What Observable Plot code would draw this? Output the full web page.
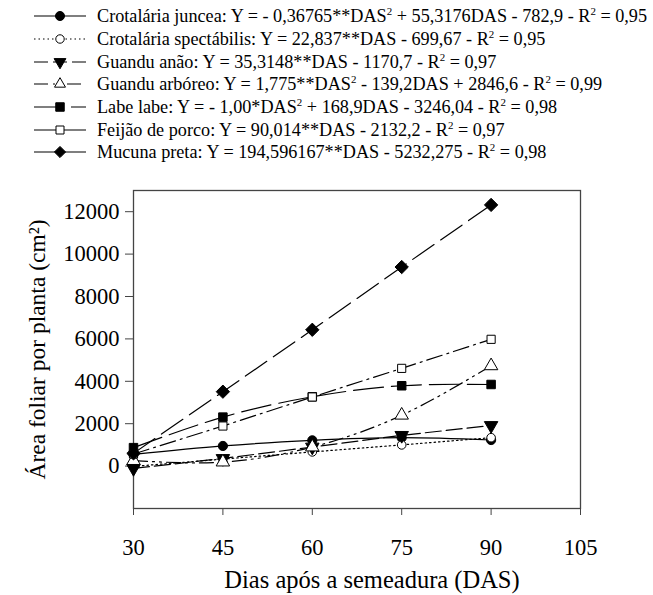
<!DOCTYPE html>
<html><head><meta charset="utf-8">
<script src="https://cdn.jsdelivr.net/npm/d3@7"></script>
<script src="https://cdn.jsdelivr.net/npm/@observablehq/plot@0.6"></script>
<style>
body{margin:0;background:#fff;font-family:"Liberation Serif","Times New Roman",Times,serif;}
#legend{height:164px;padding-top:5px;box-sizing:border-box;}
.row{display:flex;align-items:center;height:22.7px;}
.row svg{flex:none;display:block}
.row span{font-size:18.2px;color:#000;white-space:nowrap;margin-left:9px;line-height:1}
sup{font-size:0.6em;vertical-align:0.6em;line-height:0}
#chart svg{display:block}
</style></head><body>
<div id="legend"></div><div id="chart"></div>
<script>
const das = [30, 45, 60, 75, 90];
const xTicks = [30, 45, 60, 75, 90, 105];
const yTicks = [0, 2000, 4000, 6000, 8000, 10000, 12000];
const seriesNames = ["Crotalária juncea", "Crotalária spectábilis", "Guandu anão", "Guandu arbóreo", "Labe labe", "Feijão de porco", "Mucuna preta"];
const equations = [
  "Y = - 0,36765**DAS² + 55,3176DAS - 782,9 - R² = 0,95",
  "Y = 22,837**DAS - 699,67 - R² = 0,95",
  "Y = 35,3148**DAS - 1170,7 - R² = 0,97",
  "Y = 1,775**DAS² - 139,2DAS + 2846,6 - R² = 0,99",
  "Y = - 1,00*DAS² + 168,9DAS - 3246,04 - R² = 0,98",
  "Y = 90,014**DAS - 2132,2 - R² = 0,97",
  "Y = 194,596167**DAS - 5232,275 - R² = 0,98"
];
const juncea = [550, 950, 1215, 1340, 1230];
const spectabilis = [-15, 330, 670, 1000, 1340];
const anao = [-110, 360, 900, 1450, 1915];
const arboreo = [260, 190, 900, 2400, 4730];
const labe = [870, 2310, 3270, 3790, 3850];
const feijao = [570, 1890, 3260, 4610, 5980];
const mucuna = [600, 3510, 6430, 9390, 12320];
const seriesValues = [juncea, spectabilis, anao, arboreo, labe, feijao, mucuna];
const xLabel = "Dias após a semeadura (DAS)";
const yLabel = "Área foliar por planta (cm²)";

const FONT = "'Liberation Serif', 'Times New Roman', Times, serif";

const styles = [
  {dash: null, legendDash: null, curve: "natural", symbol: "circle", d3sym: d3.symbolCircle, size: 64, fill: "black", r: 4.6},
  {dash: "1.5,3", legendDash: "1.5,3", curve: "linear", symbol: "circle", d3sym: d3.symbolCircle, size: 56, fill: "white", r: 4.3},
  {dash: "16,5", legendDash: "14,5", curve: "linear", symbol: "triangle", d3sym: d3.symbolTriangle, size: 60, fill: "black", r: 5, rotate: 180},
  {dash: "14,5,2,5,2,5", legendDash: "14,5,2,5,2,5", curve: "natural", symbol: "triangle", d3sym: d3.symbolTriangle, size: 52, fill: "white", r: 5},
  {dash: "30,8", legendDash: "28,9", curve: "natural", symbol: "square", d3sym: d3.symbolSquare, size: 72, fill: "black", r: 4.8},
  {dash: "16,5,2,5", legendDash: null, curve: "linear", symbol: "square", d3sym: d3.symbolSquare, size: 64, fill: "white", r: 4.6},
  {dash: "26,8", legendDash: null, curve: "linear", symbol: "diamond2", d3sym: d3.symbolDiamond2, size: 80, fill: "black", r: 6}
];

// Legend
const legend = d3.select("#legend");
seriesNames.forEach((name, i) => {
  const st = styles[i];
  const row = legend.append("div").attr("class", "row");
  const svg = row.append("svg").attr("width", 88).attr("height", 20);
  svg.append("line").attr("x1", 34).attr("x2", 86).attr("y1", 10).attr("y2", 10)
    .attr("stroke", "black").attr("stroke-width", 1.2)
    .attr("stroke-dasharray", st.legendDash);
  svg.append("path").attr("d", d3.symbol(st.d3sym, st.size)())
    .attr("transform", `translate(60,10)${st.rotate ? " rotate(" + st.rotate + ")" : ""}`)
    .attr("fill", st.fill).attr("stroke", "black").attr("stroke-width", 1);
  const label = `${name}: ${equations[i]}`;
  const parts = label.split("²");
  row.append("span").html(parts.join("<sup>2</sup>"));
});

// Chart
const rows = [];
seriesNames.forEach((name, i) => das.forEach((d, j) => rows.push({series: name, das: d, value: seriesValues[i][j]})));

const marks = [];
seriesNames.forEach((name, i) => {
  const st = styles[i];
  const data = rows.filter(r => r.series === name);
  marks.push(Plot.line(data, {x: "das", y: "value", curve: st.curve, stroke: "black", strokeWidth: 1.2, strokeDasharray: st.dash}));
});
seriesNames.forEach((name, i) => {
  const st = styles[i];
  const data = rows.filter(r => r.series === name);
  marks.push(Plot.dot(data, {x: "das", y: "value", symbol: () => st.symbol, r: st.r, fill: st.fill, stroke: "black", strokeWidth: 1, rotate: st.rotate || 0}));
});

const chart = Plot.plot({
  width: 653,
  height: 431,
  marginTop: 26,
  marginBottom: 87,
  marginLeft: 133,
  marginRight: 73,
  style: {fontFamily: FONT, fontSize: "22.5px", color: "black", background: "white"},
  x: {domain: [30, 105]},
  y: {domain: [-2000, 13000]},
  symbol: {type: "identity"},
  marks: [
    Plot.frame({stroke: "#444", strokeWidth: 1.3}),
    Plot.axisX({ticks: xTicks, tickSize: 7, tickPadding: 24, tickFormat: d => String(d), label: null, stroke: "#444", fontSize: 22.5}),
    Plot.axisY({ticks: yTicks, tickSize: 8, tickPadding: 6, tickFormat: d => String(d), label: null, stroke: "#444", fontSize: 22.5}),
    ...marks,
    Plot.text([xLabel], {text: d => d, frameAnchor: "bottom", dy: 79, dx: 15, fontSize: 24.5, fill: "black"}),
    Plot.text([yLabel], {text: d => d, frameAnchor: "left", textAnchor: "middle", rotate: -90, dx: -96, fontSize: 23.5, fill: "black"})
  ]
});
document.getElementById("chart").append(chart);
</script>
</body></html>
